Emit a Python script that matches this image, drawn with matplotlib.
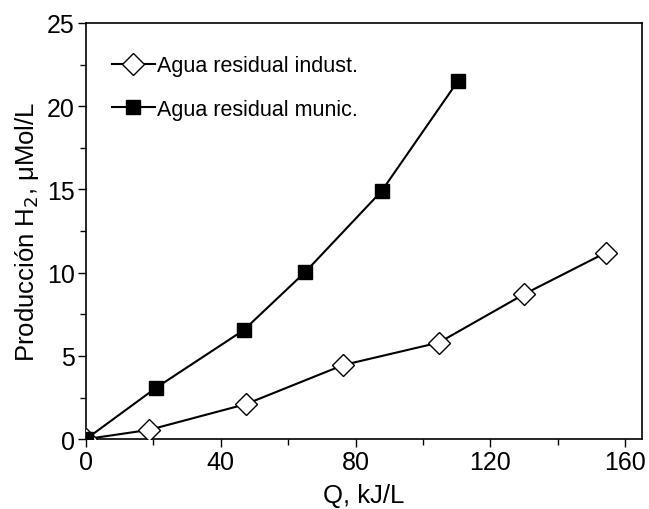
import matplotlib
matplotlib.use("Agg")
import matplotlib.pyplot as plt
from matplotlib.ticker import MultipleLocator

plt.rcParams['font.family'] = ['Liberation Sans', 'DejaVu Sans']

indust_x = [0, 18.8, 47.4, 76.3, 104.7, 129.9, 154.2]
indust_y = [0, 0.56, 2.1, 4.45, 5.8, 8.7, 11.2]
munic_x = [0, 20.9, 46.8, 65.1, 87.7, 110.3]
munic_y = [0, 3.1, 6.55, 10.05, 14.9, 21.5]

fig = plt.figure(figsize=(6.49, 5.10), dpi=100)
ax = fig.add_axes([0.1325, 0.137, 0.857, 0.816])

ax.plot(indust_x, indust_y, '-', color='black', lw=1.5, marker='D', ms=11,
        mfc='white', mec='black', mew=1.0, label='Agua residual indust.', zorder=3)
ax.plot(munic_x, munic_y, '-', color='black', lw=1.5, marker='s', ms=10.5,
        mfc='black', mec='black', label='Agua residual munic.', zorder=4)

ax.set_xlim(0, 165)
ax.set_ylim(0, 25)
ax.xaxis.set_major_locator(MultipleLocator(40))
ax.xaxis.set_minor_locator(MultipleLocator(20))
ax.yaxis.set_major_locator(MultipleLocator(5))
ax.yaxis.set_minor_locator(MultipleLocator(2.5))
ax.tick_params(which='both', direction='out', top=False, right=False, labelsize=18, width=1, pad=2)
ax.tick_params(which='major', length=6)
ax.tick_params(which='minor', length=4)
for s in ax.spines.values():
    s.set_linewidth(1.2)
for t in ax.get_xticklabels() + ax.get_yticklabels():
    t.set_clip_on(False)

ax.set_xlabel('Q, kJ/L', fontsize=18.5, labelpad=6)
ax.set_ylabel('Producción H$_2$, μMol/L', fontsize=18.5, labelpad=4)

ax.legend(loc='upper left', bbox_to_anchor=(0.0, 0.985), frameon=False, fontsize=15.5,
          handlelength=2.0, handletextpad=0.1, labelspacing=1.05, borderaxespad=0.8)

fig.savefig('out.png', dpi=100)
